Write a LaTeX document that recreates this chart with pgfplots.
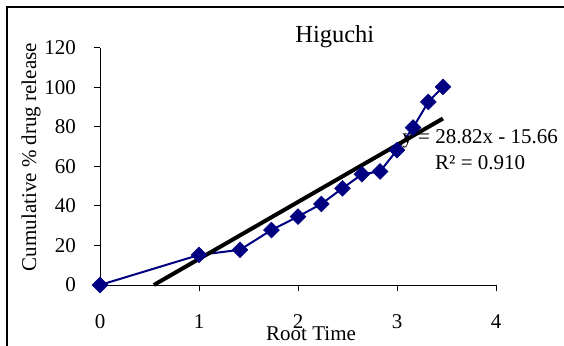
\documentclass[border=0pt]{standalone}
\usepackage{pgfplots}
\pgfplotsset{compat=1.18}
\usepackage{fontspec}
\setmainfont{Liberation Serif}
\definecolor{navyb}{HTML}{000080}
\begin{document}
\begin{tikzpicture}[x=1pt,y=1pt]
\useasboundingbox (0,0) rectangle (564,345);
\draw[line width=2.5pt] (7,-20) -- (7,338) -- (600,338);
\begin{axis}[
  at={(100pt,60pt)}, anchor=south west,
  scale only axis, width=396pt, height=237.3pt,
  xmin=0, xmax=4, ymin=0, ymax=120,
  axis lines=left,
  axis line style={-, line width=1pt, black},
  xtick={0,1,2,3,4}, ytick={0,20,40,60,80,100,120},
  tick align=outside, major tick length=6pt,
  tick style={line width=0.8pt, black},
  clip=false,
  /pgf/number format/assume math mode=true,
  ticklabel style={font=\fontsize{21}{24}\selectfont},
  xticklabel style={anchor=center, yshift=-31pt},
  yticklabel style={inner sep=0pt, xshift=-18pt},
  title={Higuchi},
  title style={at={(axis description cs:0.593,1.022)}, anchor=center, font=\fontsize{24.5}{28}\selectfont},
  xlabel={Root Time},
  xlabel style={at={(axis description cs:0.533,-0.205)}, anchor=center, font=\fontsize{21}{24}\selectfont},
  ylabel={Cumulative \% drug release},
  ylabel style={at={(axis description cs:-0.174,0.539)}, anchor=center, font=\fontsize{21}{24}\selectfont},
]
\addplot[navyb, line width=2pt, mark=square*, mark size=5.6pt, mark options={solid, fill=navyb, draw=navyb, rotate=45, line width=0.5pt}] coordinates {
(0,0) (1,15.2) (1.4142,17.8) (1.7321,27.8) (2,34.6) (2.2361,41) (2.4495,48.9) (2.6458,56) (2.8284,57.4) (3,68.2) (3.1623,79.6) (3.3166,92.6) (3.4641,100.2)
};
\node[align=center, font=\fontsize{21}{26}\selectfont] at (axis cs:3.84,68.3) {y = 28.82x - 15.66\\R² = 0.910};
\addplot[black, line width=4pt, no markers] coordinates {(0.5434,0) (3.4641,84.18)};
\end{axis}
\end{tikzpicture}
\end{document}
